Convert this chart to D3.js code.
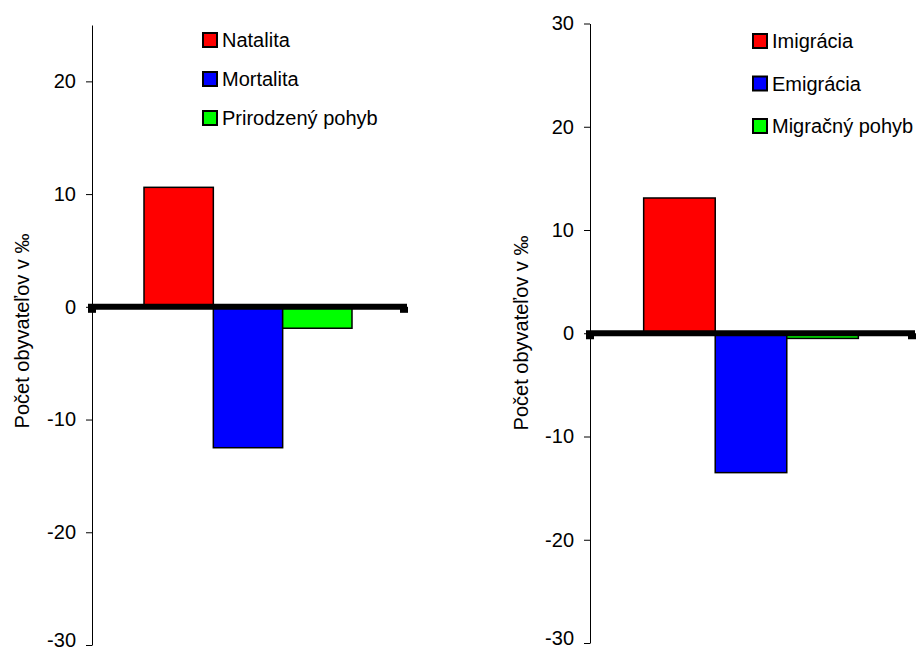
<!DOCTYPE html>
<html><head><meta charset="utf-8">
<script src="https://cdn.jsdelivr.net/npm/d3@7"></script>
<style>
html,body{margin:0;padding:0;background:#fff;}
text{font-family:Arial,"Liberation Sans",sans-serif;fill:#000;}
</style></head>
<body>
<svg id="c" width="923" height="651"></svg>
<script>
// Data
const leftSeries = ["Natalita", "Mortalita", "Prirodzený pohyb"];
const leftValues = [10.6, -12.5, -1.9];
const leftTicks = [-30, -20, -10, 0, 10, 20];

const rightSeries = ["Imigrácia", "Emigrácia", "Migračný pohyb"];
const rightValues = [13.1, -13.5, -0.5];
const rightTicks = [-30, -20, -10, 0, 10, 20, 30];

const colors = ["#ff0000", "#0000ff", "#00ff00"];
const yTitle = "Počet obyvateľov v ‰";

const svg = d3.select("#c");

function drawChart(cfg) {
  const g = svg.append("g");
  const y = d3.scaleLinear().domain(cfg.domain).range([cfg.bottom, cfg.top]);
  const x = d3.scaleBand().domain(cfg.series).range([cfg.left, cfg.right])
    .paddingInner(0).paddingOuter(0.75);

  // y axis
  const ax = g.append("g").attr("transform", `translate(${cfg.left},0)`)
    .call(d3.axisLeft(y).tickValues(cfg.ticks).tickSize(6).tickSizeOuter(0)
      .tickPadding(cfg.tickPad).tickFormat(d => String(d)));
  ax.select(".domain").attr("stroke", "#000").attr("stroke-width", 1);
  ax.selectAll(".tick line").attr("stroke", "#000");
  ax.selectAll(".tick text").style("font-size", "20px").attr("fill", "#000")
    .attr("dy", d => d === cfg.domain[0] ? "0.05em" : "0.32em");

  // bars
  g.selectAll("rect.bar").data(cfg.values).enter().append("rect")
    .attr("class", "bar")
    .attr("x", (d, i) => x(cfg.series[i]))
    .attr("width", x.bandwidth())
    .attr("y", d => y(Math.max(0, d)))
    .attr("height", d => Math.abs(y(d) - y(0)))
    .attr("fill", (d, i) => colors[i])
    .attr("stroke", "#000").attr("stroke-width", 1.5);

  // thick zero line
  g.append("line")
    .attr("x1", cfg.left - 4).attr("x2", cfg.right + 3)
    .attr("y1", y(0)).attr("y2", y(0))
    .attr("stroke", "#000").attr("stroke-width", 6);
  g.append("rect").attr("x", cfg.left - 4).attr("y", y(0)).attr("width", 8).attr("height", 6).attr("fill", "#000");
  g.append("rect").attr("x", cfg.right - 4).attr("y", y(0)).attr("width", 8).attr("height", 6).attr("fill", "#000");

  // y title
  g.append("text")
    .attr("transform", `translate(${cfg.titleX},${cfg.titleY}) rotate(-90)`)
    .attr("text-anchor", "middle")
    .style("font-size", "20px")
    .text(yTitle);

  // legend
  const lg = g.selectAll("g.leg").data(cfg.series).enter().append("g")
    .attr("transform", (d, i) => `translate(${cfg.legX},${cfg.legY + i * cfg.legStep})`);
  lg.append("rect").attr("x", 0).attr("y", -7).attr("width", 14).attr("height", 14)
    .attr("fill", (d, i) => colors[i]).attr("stroke", "#000").attr("stroke-width", 2);
  lg.append("text").attr("x", 19).attr("y", 0).attr("dy", "0.35em")
    .style("font-size", "20px").text(d => d);
}

drawChart({
  series: leftSeries, values: leftValues, ticks: leftTicks,
  domain: [-30, 25], top: 25, bottom: 645, left: 92, right: 404, tickPad: 10,
  titleX: 29, titleY: 331, legX: 203, legY: 40, legStep: 39
});
drawChart({
  series: rightSeries, values: rightValues, ticks: rightTicks,
  domain: [-30, 30], top: 23.5, bottom: 643, left: 590, right: 912, tickPad: 10,
  titleX: 528, titleY: 333, legX: 753, legY: 41, legStep: 42.5
});
</script>
</body></html>
